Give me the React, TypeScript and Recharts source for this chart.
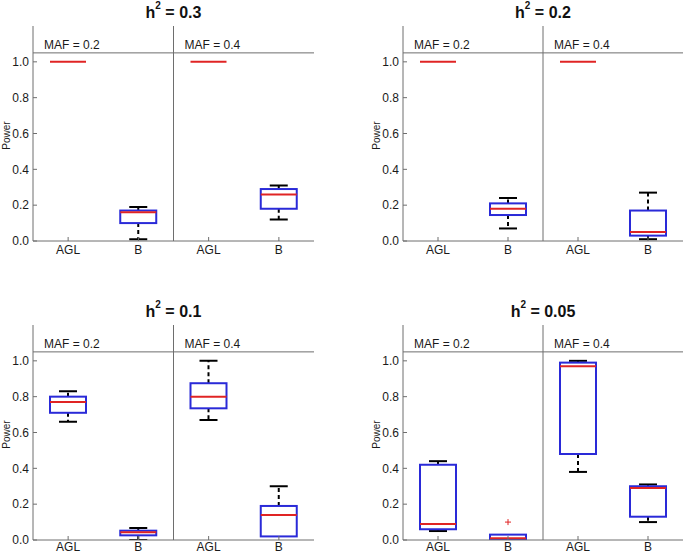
import React from 'react';
import { ComposedChart, Bar, XAxis, YAxis, ReferenceLine, ReferenceArea } from 'recharts';

const categories = ['AGL', 'B', 'AGL', 'B'];
const mafLabels = ['MAF = 0.2', 'MAF = 0.4'];
const heritabilities = ['0.3', '0.2', '0.1', '0.05'];
const yTicks = [0, 0.2, 0.4, 0.6, 0.8, 1.0];

// five-number summaries [min, q1, median, q3, max] per category
const statsH03 = [[1, 1, 1, 1, 1], [0.01, 0.1, 0.16, 0.17, 0.19], [1, 1, 1, 1, 1], [0.12, 0.18, 0.26, 0.29, 0.31]];
const statsH02 = [[1, 1, 1, 1, 1], [0.07, 0.145, 0.18, 0.21, 0.24], [1, 1, 1, 1, 1], [0.01, 0.03, 0.05, 0.17, 0.27]];
const statsH01 = [[0.66, 0.71, 0.77, 0.8, 0.83], [0.0, 0.026, 0.043, 0.052, 0.067], [0.67, 0.735, 0.8, 0.875, 1.0], [0.02, 0.02, 0.14, 0.19, 0.3]];
const statsH005 = [[0.05, 0.06, 0.09, 0.42, 0.44], [0.0, 0.0, 0.01, 0.03, 0.03], [0.38, 0.48, 0.97, 0.99, 1.0], [0.1, 0.13, 0.29, 0.3, 0.31]];
const noOutliers = [[], [], [], []];
const outliersH005 = [[], [0.1], [], []];

const FRAME = '#6e6e6e';
const BLUE = '#2a2ad8';
const RED = '#e02424';
const FONT = '"Liberation Sans", Arial, sans-serif';

const BoxShape = (props: any) => {
  const { x, y, width, height, payload } = props;
  const [mn, q1, med, q3, mx] = payload.stats as number[];
  const top = payload.range[1];
  const base = payload.range[0];
  const py = (v: number) => y + height - ((v - base) / (top - base)) * height;
  const cx = x + width / 2;
  const capHalf = width / 4;
  const els: any[] = [];
  if (mx > q3) {
    els.push(<line key="wu" x1={cx} x2={cx} y1={py(q3)} y2={py(mx)} stroke="#000" strokeWidth={2} strokeDasharray="4 3" />);
    els.push(<line key="cu" x1={cx - capHalf} x2={cx + capHalf} y1={py(mx)} y2={py(mx)} stroke="#000" strokeWidth={2} />);
  }
  if (mn < q1) {
    els.push(<line key="wl" x1={cx} x2={cx} y1={py(q1)} y2={py(mn)} stroke="#000" strokeWidth={2} strokeDasharray="4 3" />);
    els.push(<line key="cl" x1={cx - capHalf} x2={cx + capHalf} y1={py(mn)} y2={py(mn)} stroke="#000" strokeWidth={2} />);
  }
  if (q3 > q1) {
    els.push(<rect key="box" x={x} y={py(q3)} width={width} height={py(q1) - py(q3)} fill="none" stroke={BLUE} strokeWidth={2} />);
  }
  els.push(<line key="med" x1={x} x2={x + width} y1={py(med)} y2={py(med)} stroke={RED} strokeWidth={2} />);
  (payload.outliers as number[]).forEach((o, i) => {
    const oy = py(o);
    els.push(
      <g key={'o' + i} stroke={RED} strokeWidth={1}>
        <line x1={cx - 3} x2={cx + 3} y1={oy} y2={oy} />
        <line x1={cx} x2={cx} y1={oy - 3} y2={oy + 3} />
      </g>
    );
  });
  return <g>{els}</g>;
};

const MafLabel = (text: string) => (props: any) => {
  const vb = props.viewBox;
  return (
    <text x={vb.x + 11} y={vb.y + vb.height - 4} fontSize={12} fill="#1a1a1a" fontFamily={FONT}>
      {text}
    </text>
  );
};

const PowerLabel = (props: any) => {
  const vb = props.viewBox;
  const lx = vb.x + vb.width - 27;
  const ly = vb.y + vb.height / 2 + 2;
  return (
    <text x={lx} y={ly} transform={`rotate(-90 ${lx} ${ly})`} textAnchor="middle" dominantBaseline="central" fontSize={10} fill="#1a1a1a" fontFamily={FONT}>
      Power
    </text>
  );
};

type PanelProps = {
  left: number; top: number; W: number; H: number;
  pl: number; pt: number; pr: number; pb: number;
  h: string; stats: number[][]; outliers: number[][]; xMargin: number;
};

function Panel({ left, top, W, H, pl, pt, pr, pb, h, stats, outliers, xMargin }: PanelProps) {
  const data = categories.map((name, i) => ({
    name,
    pos: i + 0.5,
    range: [0, stats[i][4]],
    stats: stats[i],
    outliers: outliers[i],
  }));
  const tickStyle = { fill: '#1a1a1a', fontSize: 12, fontFamily: FONT };
  return (
    <div style={{ position: 'absolute', left, top, width: W, height: H }}>
      <div
        style={{
          position: 'absolute', left: pl - left, width: pr - pl, top: pt - top - 23, height: 20,
          textAlign: 'center', fontFamily: FONT, fontWeight: 'bold', fontSize: 16, lineHeight: '20px', color: '#111',
        }}
      >
        h<sup style={{ fontSize: 10, lineHeight: 0, verticalAlign: 'top', position: 'relative', top: 3 }}>2</sup> = {h}
      </div>
      <ComposedChart
        width={W}
        height={H}
        data={data}
        margin={{ top: pt - top, left: 0, right: left + W - pr, bottom: 0 }}
      >
        <XAxis
          xAxisId="cat"
          dataKey="name"
          type="category"
          interval={0}
          height={top + H - pb}
          tickSize={-4}
          tickMargin={xMargin}
          tick={tickStyle}
          axisLine={{ stroke: FRAME }}
          tickLine={{ stroke: FRAME }}
        />
        <XAxis
          xAxisId="top"
          dataKey="name"
          type="category"
          orientation="top"
          interval={0}
          height={0}
          tickSize={-4}
          tickFormatter={() => ''}
          axisLine={{ stroke: FRAME }}
          tickLine={{ stroke: FRAME }}
        />
        <XAxis xAxisId="num" dataKey="pos" type="number" domain={[0, 4]} allowDataOverflow hide />
        <YAxis
          yAxisId="y"
          type="number"
          domain={[0, 1.2]}
          ticks={yTicks}
          allowDataOverflow
          width={pl - left}
          tickSize={-4}
          tickMargin={8}
          tick={tickStyle}
          tickFormatter={(v: number) => v.toFixed(1)}
          axisLine={{ stroke: FRAME }}
          tickLine={{ stroke: FRAME }}
          label={<PowerLabel />}
        />
        <YAxis
          yAxisId="r"
          orientation="right"
          type="number"
          domain={[0, 1.2]}
          ticks={yTicks}
          allowDataOverflow
          width={0}
          tickSize={-4}
          tickFormatter={() => ''}
          axisLine={{ stroke: FRAME }}
          tickLine={{ stroke: FRAME }}
        />
        <ReferenceArea xAxisId="num" yAxisId="y" x1={0} x2={2} y1={1.05} y2={1.2} fill="none" fillOpacity={0} stroke="none" ifOverflow="visible" label={MafLabel(mafLabels[0])} />
        <ReferenceArea xAxisId="num" yAxisId="y" x1={2} x2={4} y1={1.05} y2={1.2} fill="none" fillOpacity={0} stroke="none" ifOverflow="visible" label={MafLabel(mafLabels[1])} />
        <ReferenceLine xAxisId="num" yAxisId="y" y={1.05} stroke={FRAME} />
        <ReferenceLine xAxisId="num" yAxisId="y" x={2} stroke={FRAME} />
        <Bar
          xAxisId="cat"
          yAxisId="y"
          dataKey="range"
          barSize={36}
          isAnimationActive={false}
          shape={(p: any) => <BoxShape {...p} />}
        />
      </ComposedChart>
    </div>
  );
}

export default function App() {
  return (
    <div style={{ position: 'absolute', left: 0, top: 0, width: 685, height: 554, background: '#fff', overflow: 'hidden' }}>
      <Panel left={0} top={0} W={345} H={270} pl={33} pt={26} pr={314} pb={241} h={heritabilities[0]} stats={statsH03} outliers={noOutliers} xMargin={8} />
      <Panel left={345} top={0} W={340} H={270} pl={403} pt={26} pr={683} pb={241} h={heritabilities[1]} stats={statsH02} outliers={noOutliers} xMargin={8} />
      <Panel left={0} top={270} W={345} H={284} pl={33} pt={325} pr={314} pb={540} h={heritabilities[2]} stats={statsH01} outliers={noOutliers} xMargin={6} />
      <Panel left={345} top={270} W={340} H={284} pl={403} pt={325} pr={683} pb={540} h={heritabilities[3]} stats={statsH005} outliers={outliersH005} xMargin={6} />
    </div>
  );
}
